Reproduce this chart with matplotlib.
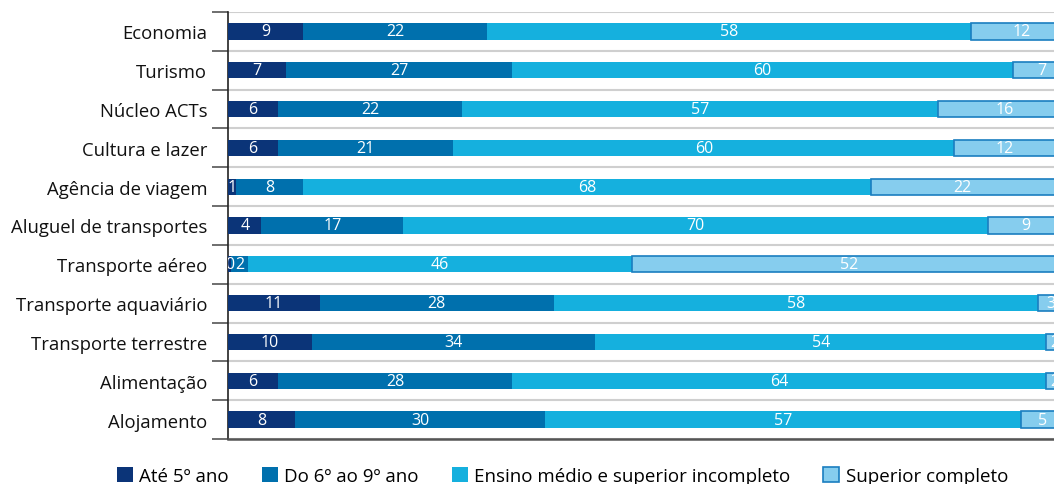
import numpy as np
import matplotlib
matplotlib.use("Agg")
import matplotlib.pyplot as plt
from matplotlib.patches import Patch

# ── Dados ────────────────────────────────────────────────────────────────────

categorias = ["Economia", "Turismo", "Núcleo ACTs", "Cultura e lazer",
              "Agência de viagem", "Aluguel de transportes", "Transporte aéreo",
              "Transporte aquaviário", "Transporte terrestre", "Alimentação",
              "Alojamento"]

ate_5     = [9, 7, 6, 6, 1, 4, 0.4, 11, 10, 6, 8]
do_6_ao_9 = [22, 27, 22, 21, 8, 17, 2, 28, 34, 28, 30]
medio     = [58, 60, 57, 60, 68, 70, 46, 58, 54, 64, 57]
superior  = [12, 7, 16, 12, 22, 9, 52, 3, 2, 2, 5]

series = ["Até 5º ano", "Do 6º ao 9º ano",
          "Ensino médio e superior incompleto", "Superior completo"]

# ── Estilo ───────────────────────────────────────────────────────────────────

CORES  = ["#0b3478", "#0070ad", "#15b0de", "#86cdee"]
BORDAS = [None, None, None, "#1a7ec0"]
GRID   = "#cfcfcf"
TICK   = "#555555"

plt.rcParams.update({
    "font.family": ["Open Sans", "DejaVu Sans"],
    "font.size":   13,
})

fig = plt.figure(figsize=(10.54, 4.85), dpi=100)
ax = fig.add_axes([228 / 1054, 1 - 440 / 485, 1 - 228 / 1054, (440 - 13) / 485])

y = np.arange(len(categorias))
valores = [ate_5, do_6_ao_9, medio, superior]
esquerda = np.zeros(len(categorias))

for vals, cor, borda, nome in zip(valores, CORES, BORDAS, series):
    vals = np.array(vals, dtype=float)
    ax.barh(y, vals, left=esquerda, height=0.42, color=cor,
            edgecolor=borda if borda else cor,
            linewidth=1.2 if borda else 0, label=nome, zorder=3)
    for yi, l, v in zip(y, esquerda, vals):
        ax.text(l + v / 2, yi, f"{v:.0f}", ha="center", va="center",
                color="white", fontsize=11.5, zorder=4, clip_on=True)
    esquerda += vals

ax.set_xlim(0, 826 / 8.35)
ax.set_ylim(len(categorias) - 0.5, -0.5)

# limites entre categorias: ticks maiores + grade
ax.set_yticks(np.arange(-0.5, len(categorias)), minor=False)
ax.set_yticklabels([])
ax.set_yticks(y, minor=True)
ax.set_yticklabels(categorias, minor=True)
ax.tick_params(axis="y", which="major", length=11.5, width=1.2, color=TICK)
ax.tick_params(axis="y", which="minor", length=0, pad=15, labelsize=13.3,
               labelcolor="#111111")
ax.yaxis.grid(True, which="major", color=GRID, linewidth=1.5, zorder=0)
ax.xaxis.set_visible(False)

for s in ["top", "right"]:
    ax.spines[s].set_visible(False)
ax.spines["left"].set_color("#222222")
ax.spines["left"].set_linewidth(1.2)
ax.spines["bottom"].set_color(TICK)
ax.spines["bottom"].set_linewidth(1.8)

handles = [Patch(facecolor=c, edgecolor=b if b else c, linewidth=1.2 if b else 0)
           for c, b in zip(CORES, BORDAS)]
fig.legend(handles, series, ncol=4, loc="center left",
           bbox_to_anchor=(100 / 1054, 1 - 477 / 485), frameon=False,
           fontsize=13.5, handlelength=0.85, handleheight=0.85,
           handletextpad=0.35, columnspacing=1.75)

fig.savefig("out.png", dpi=100, facecolor="white")
